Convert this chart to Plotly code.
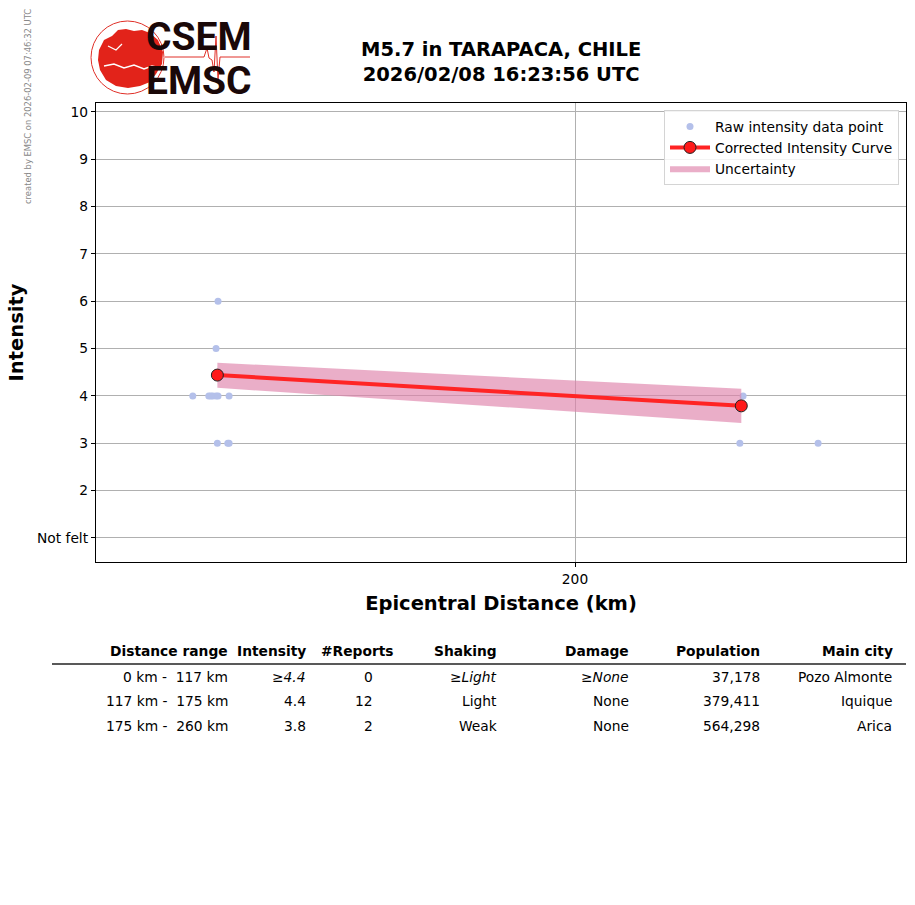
import numpy as np
import plotly.graph_objects as go

# raw felt reports: epicentral distance (km) and intensity
raw_dist = [132.6, 132.3, 128.8, 131.2, 131.5, 131.8, 132.3, 132.6, 134.3,
            132.5, 134.1, 134.3, 242.7, 241.8, 264.6]
raw_int = [6, 5, 4, 4, 4, 4, 4, 4, 4, 3, 3, 3, 4, 3, 3]

# corrected intensity curve and its uncertainty
curve_dist = [132.5, 242.2]
curve_int = [4.44, 3.79]
band_upper = [4.70, 4.15]
band_lower = [4.17, 3.43]

ytick_vals = [1, 2, 3, 4, 5, 6, 7, 8, 9, 10]
ytick_text = ["Not felt", "2", "3", "4", "5", "6", "7", "8", "9", "10"]

# summary table
tbl_header = ["Distance range", "Intensity", "#Reports", "Shaking",
              "Damage", "Population", "Main city"]
tbl_range = ["0 km -\u00a0 117 km", "117 km -\u00a0 175 km", "175 km -\u00a0 260 km"]
tbl_int = ["<i>≥4.4</i>", "4.4", "3.8"]
tbl_reports = ["0", "12", "2"]
tbl_shaking = ["<i>≥Light</i>", "Light", "Weak"]
tbl_damage = ["<i>≥None</i>", "None", "None"]
tbl_pop = ["37,178", "379,411", "564,298"]
tbl_city = ["Pozo Almonte", "Iquique", "Arica"]

W, H = 915, 905
L, R, T, B = 96, 906, 103, 562
FONT = "DejaVu Sans"
FS = 13.8


def px(x):
    return (x - L) / (R - L)


def py(y):
    return (B - y) / (B - T)


def pts_path(xs, ys, close=False):
    p = "M " + " L ".join("{} {}".format(px(a), py(b)) for a, b in zip(xs, ys))
    return p + (" Z" if close else "")


fig = go.Figure()

fig.add_trace(go.Scatter(
    x=raw_dist, y=raw_int, mode="markers", name="Raw intensity data point",
    marker=dict(color="#b4c0ea", size=7)))

fig.add_trace(go.Scatter(
    x=curve_dist, y=band_lower, mode="lines", line=dict(width=0),
    showlegend=False, hoverinfo="skip"))
fig.add_trace(go.Scatter(
    x=curve_dist, y=band_upper, mode="lines", line=dict(width=0),
    fill="tonexty", fillcolor="rgba(222,130,170,0.65)", name="Uncertainty"))

fig.add_trace(go.Scatter(
    x=curve_dist, y=curve_int, mode="lines+markers",
    name="Corrected Intensity Curve",
    line=dict(color="#ff2424", width=4),
    marker=dict(color="#ff1a1a", size=12, line=dict(color="#222", width=1))))

fig.data[0].legendrank = 1
fig.data[3].legendrank = 2
fig.data[2].legendrank = 3

k = 2000.0  # px per decade
x0 = np.log10(200) - (575 - L) / k
x1 = np.log10(200) + (R - 575) / k

fig.update_layout(
    width=W, height=H,
    margin=dict(l=L, r=W - R, t=T, b=H - B, pad=0),
    paper_bgcolor="white", plot_bgcolor="white",
    font=dict(family=FONT, size=FS, color="black"),
    showlegend=True,
    legend=dict(x=px(899), y=py(110), xanchor="right", yanchor="top",
                traceorder="normal",
                bgcolor="rgba(255,255,255,0.85)", bordercolor="#d4d4d4",
                borderwidth=1, font=dict(size=FS), tracegroupgap=0,
                itemwidth=40),
    xaxis=dict(type="log", range=[x0, x1], tickvals=[200], ticktext=["200"],
               showgrid=True, gridcolor="#b0b0b0", gridwidth=1,
               showline=True, linecolor="black", linewidth=1.2, mirror=True,
               ticks="outside", ticklen=4, tickcolor="black", zeroline=False,
               tickfont=dict(size=FS),
               title=dict(text="<b>Epicentral Distance (km)</b>",
                          font=dict(size=19.5), standoff=10)),
    yaxis=dict(range=[0.49, 10.19], tickvals=ytick_vals, ticktext=ytick_text,
               showgrid=True, gridcolor="#b0b0b0", gridwidth=1,
               showline=True, linecolor="black", linewidth=1.2, mirror=True,
               ticks="outside", ticklen=4, tickcolor="black", zeroline=False,
               tickfont=dict(size=FS),
               title=dict(text="<b>Intensity</b>", font=dict(size=19.5),
                          standoff=8)),
)

ann = []
ann.append(dict(x=px(501), y=py(62), xref="paper", yref="paper",
                text="<b>M5.7 in TARAPACA, CHILE<br>2026/02/08 16:23:56 UTC</b>",
                xanchor="center", yanchor="middle",
                showarrow=False, font=dict(size=19.5), align="center"))
ann.append(dict(x=px(28), y=py(107), xref="paper", yref="paper",
                text="created by EMSC on 2026-02-09 07:46:32 UTC",
                textangle=-90, showarrow=False, xanchor="center", yanchor="middle",
                font=dict(size=8.4, color="#888888")))

# logo
for word, cy in [("CSEM", 37), ("EMSC", 81)]:
    ann.append(dict(x=px(199), y=py(cy), xref="paper", yref="paper",
                    text="<b>" + word + "</b>", xanchor="center", yanchor="middle",
                    showarrow=False,
                    font=dict(family="Roboto", size=39, color="#1a0808")))

shapes = []
shapes.append(dict(type="circle", xref="paper", yref="paper",
                   x0=px(91), x1=px(164), y0=py(94), y1=py(21),
                   line=dict(color="#e03028", width=1)))
land_x = [99, 104, 112, 118, 126, 134, 142, 150, 158, 163, 162, 156, 150,
          140, 128, 116, 106, 100, 98]
land_y = [50, 40, 36, 30, 29, 31, 30, 33, 40, 52, 64, 74, 82, 86, 88,
          86, 80, 70, 60]
shapes.append(dict(type="path", xref="paper", yref="paper",
                   path=pts_path(land_x, land_y, close=True),
                   fillcolor="#e2231a", line=dict(width=0)))
sea_x = [104, 114, 124, 134, 144, 152, 160]
sea_y = [66, 64, 68, 65, 69, 66, 68]
shapes.append(dict(type="path", xref="paper", yref="paper",
                   path=pts_path(sea_x, sea_y),
                   line=dict(color="white", width=1.5)))
shapes.append(dict(type="path", xref="paper", yref="paper",
                   path=pts_path([108, 116, 122], [46, 50, 44]),
                   line=dict(color="white", width=1.2)))
seis_x = [165, 200, 204, 207, 209, 212, 214, 216, 218, 220, 224, 250]
seis_y = [57, 57, 57, 48, 58, 60, 72, 36, 80, 57, 57, 57]
shapes.append(dict(type="path", xref="paper", yref="paper",
                   path=pts_path(seis_x, seis_y),
                   line=dict(color="#e03028", width=1)))

# table
hdr_right = [228, 306, 394, 497, 629, 760, 893]
val_right = [228, 306, 373, 497, 629, 760, 892]
for txt, xr in zip(tbl_header, hdr_right):
    ann.append(dict(x=px(xr + 2), y=py(651), xref="paper", yref="paper",
                    text="<b>" + txt + "</b>", xanchor="right", yanchor="middle",
                    showarrow=False, font=dict(size=FS)))
shapes.append(dict(type="line", xref="paper", yref="paper",
                   x0=px(52), x1=px(906), y0=py(664), y1=py(664),
                   line=dict(color="#222", width=1.5)))
row_y = [677, 701, 726]
cols = [tbl_range, tbl_int, tbl_reports, tbl_shaking, tbl_damage, tbl_pop, tbl_city]
for ci, col in enumerate(cols):
    for ri, txt in enumerate(col):
        ann.append(dict(x=px(val_right[ci] + 2), y=py(row_y[ri]), xref="paper",
                        yref="paper", text=txt, xanchor="right", yanchor="middle",
                        showarrow=False, font=dict(size=FS)))

fig.update_layout(annotations=ann, shapes=shapes)
fig.write_html("out.html", config={"displayModeBar": False},
               post_script="document.body.style.margin='0';")
